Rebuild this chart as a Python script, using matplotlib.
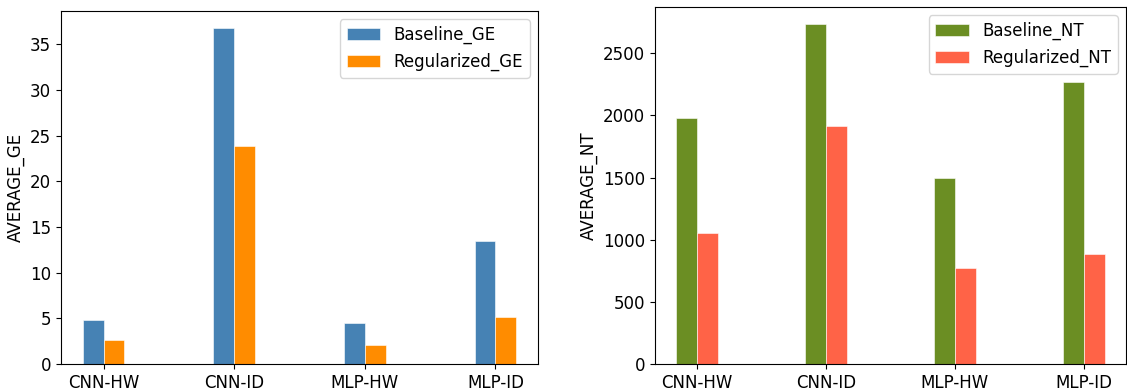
import numpy as np
import matplotlib
matplotlib.use("Agg")
import matplotlib.pyplot as plt

models = ["CNN-HW", "CNN-ID", "MLP-HW", "MLP-ID"]
baseline_ge = [4.84, 36.8, 4.47, 13.46]
regularized_ge = [2.62, 23.86, 2.07, 5.09]
baseline_nt = [1978, 2736, 1494, 2270]
regularized_nt = [1052, 1919, 771, 886]

W, H = 1127, 390
fig = plt.figure(figsize=(W / 100, H / 100), dpi=100)
ax1 = fig.add_axes([61 / W, 26 / H, (538 - 61) / W, (364 - 11) / H])
ax2 = fig.add_axes([655 / W, 26 / H, (1126 - 655) / W, (364 - 7) / H])

x = np.arange(len(models))
width = 0.16

def draw(ax, base, reg, c1, c2, l1, l2, ylabel):
    ax.bar(x - width / 2, base, width, color=c1, label=l1, edgecolor="white", linewidth=0.4)
    ax.bar(x + width / 2, reg, width, color=c2, label=l2, edgecolor="white", linewidth=0.4)
    ax.set_xticks(x)
    ax.set_xticklabels(models)
    ax.set_ylabel(ylabel, fontsize=12)
    ax.tick_params(labelsize=12)
    ax.legend(fontsize=12, loc="upper right")

draw(ax1, baseline_ge, regularized_ge, "steelblue", "darkorange",
     "Baseline_GE", "Regularized_GE", "AVERAGE_GE")
draw(ax2, baseline_nt, regularized_nt, "olivedrab", "tomato",
     "Baseline_NT", "Regularized_NT", "AVERAGE_NT")

fig.savefig("out.png", dpi=100)
